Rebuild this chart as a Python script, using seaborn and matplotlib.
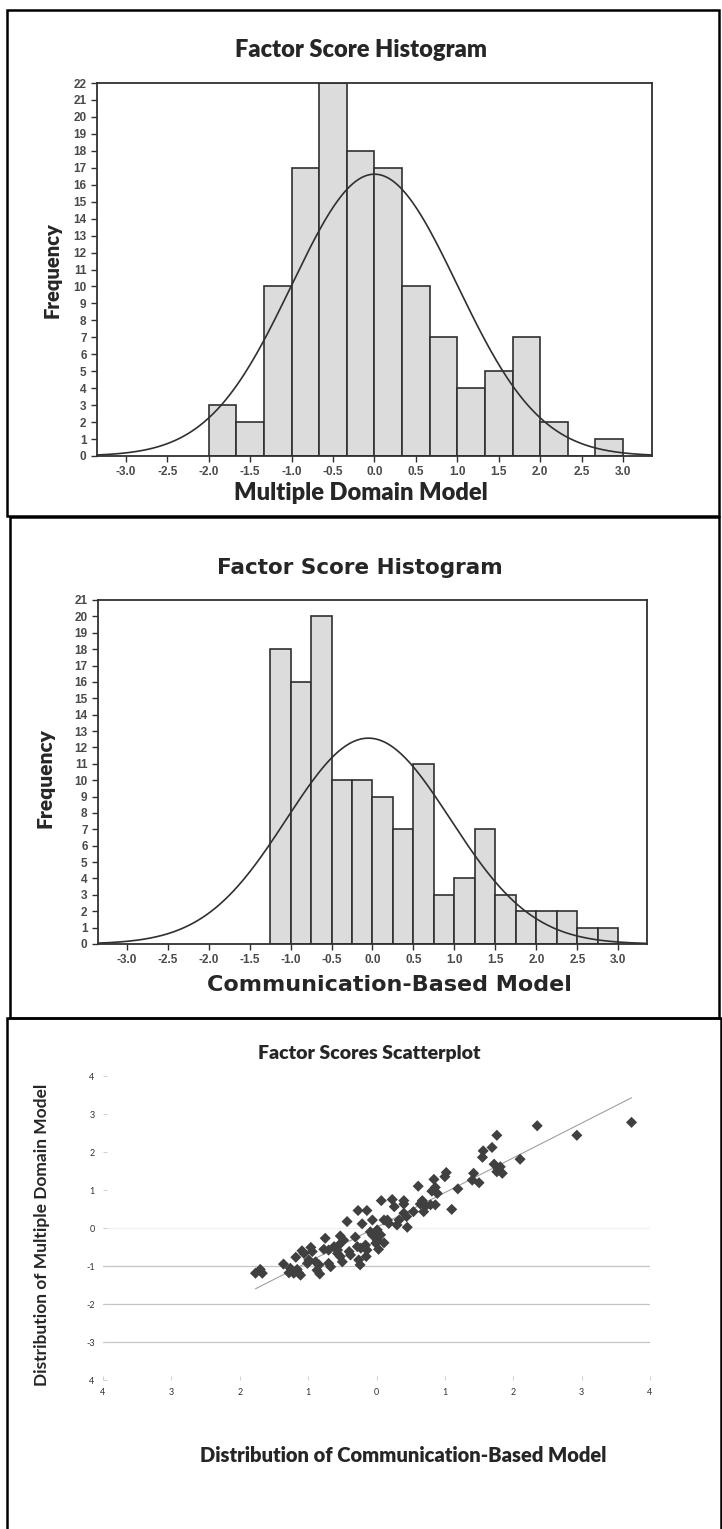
import numpy as np
import pandas as pd
import matplotlib
matplotlib.use("Agg")
import matplotlib.pyplot as plt
from matplotlib.patches import Rectangle
import seaborn as sns

# --- histogram 1: Multiple Domain Model (bin width 1/3) ---
mdm_edges = [-2.0, -5/3, -4/3, -1.0, -2/3, -1/3, 0.0, 1/3, 2/3, 1.0, 4/3, 5/3, 2.0, 7/3, 8/3, 3.0]
mdm_counts = [3, 2, 10, 17, 22, 18, 17, 10, 7, 4, 5, 7, 2, 0, 1]
mdm_mean, mdm_sd = 0.0, 1.0

# --- histogram 2: Communication-Based Model (bin width 0.25) ---
cbm_edges = [-1.25, -1.0, -0.75, -0.5, -0.25, 0.0, 0.25, 0.5, 0.75, 1.0, 1.25,
             1.5, 1.75, 2.0, 2.25, 2.5, 2.75, 3.0]
cbm_counts = [18, 16, 20, 10, 10, 9, 7, 11, 3, 4, 7, 3, 2, 2, 2, 1, 1]
cbm_mean, cbm_sd = -0.05, 1.0

hist_xticks = [-3.0, -2.5, -2.0, -1.5, -1.0, -0.5, 0.0, 0.5, 1.0, 1.5, 2.0, 2.5, 3.0]

# --- scatter: Communication-Based (x) vs Multiple Domain (y) ---
sc_x = [2.35, 2.93, 3.73, 2.10, 1.84, 1.81,
        1.76, 1.69, 1.56, 1.55, 1.72, 1.78, 1.76, 1.42, 1.50, 1.40, 1.19, 1.10,
        1.02, 1.00, 0.84, 0.86, 0.81, 0.89, 0.79, 0.86, 0.61, 0.67, 0.64, 0.72,
        0.69, 0.54, 0.40, 0.40, 0.23, 0.26, 0.44, 0.40, 0.45, 0.33, 0.30, 0.07,
        0.16, 0.11, 0.18, -0.06, 0.01, -0.06, 0.01, 0.06, -0.01, 0.11, 0.03,
        -1.77, -1.70, -1.67, -1.36, -1.28, -1.26, -1.21, -1.14, -1.16, -1.11,
        -1.18, -1.09, -1.06, -0.96, -0.94, -0.99, -1.01, -0.89, -0.84, -0.87,
        -0.83, -0.75, -0.77, -0.70, -0.62, -0.57, -0.55, -0.67, -0.70, -0.53,
        -0.50, -0.57, -0.53, -0.48, -0.43, -0.40, -0.38, -0.31, -0.28, -0.23,
        -0.26, -0.24, -0.21, -0.16, -0.14, -0.15, -0.27, -0.14, -0.09, -0.04, 0.01]
sc_y = [2.69, 2.44, 2.78, 1.81, 1.44, 1.61,
        2.44, 2.12, 2.03, 1.86, 1.68, 1.53, 1.48, 1.44, 1.19, 1.26, 1.03, 0.49,
        1.46, 1.35, 1.28, 1.07, 0.97, 0.91, 0.61, 0.61, 1.10, 0.72, 0.63, 0.58,
        0.43, 0.43, 0.72, 0.63, 0.75, 0.56, 0.30, 0.39, 0.02, 0.21, 0.08, 0.72,
        0.21, 0.21, 0.12, 0.21, -0.05, -0.18, -0.23, -0.18, -0.40, -0.39, -0.56,
        -1.19, -1.09, -1.19, -0.95, -1.18, -1.06, -1.19, -1.18, -1.09, -1.24,
        -0.77, -0.60, -0.67, -0.51, -0.62, -0.84, -0.93, -0.89, -0.97, -1.11,
        -1.21, -0.27, -0.56, -0.58, -0.49, -0.58, -0.45, -1.02, -0.93, -0.75,
        -0.89, -0.67, -0.21, -0.32, 0.17, -0.62, -0.71, -0.24, -0.49, -0.53,
        -0.84, -0.97, 0.11, -0.45, -0.58, -0.75, 0.46, 0.46, -0.10, -0.21, -0.32]

sc_ticks = [-4, -3, -2, -1, 0, 1, 2, 3, 4]
sc_xticklabels = ["4", "3", "2", "1", "0", "1", "2", "3", "4"]
sc_yticklabels = ["4", "-3", "-2", "-1", "0", "1", "2", "3", "4"]
grid_y = [-1, -2, -3]

sns.set_style("ticks")
plt.rcParams['font.family'] = ['Lato', 'DejaVu Sans']

W, H = 722, 1529
fig = plt.figure(figsize=(W / 100, H / 100), dpi=100)


def box(l, t, r, b):
    return [l / W, 1 - b / H, (r - l) / W, (b - t) / H]


def ftxt(x, y, s, **kw):
    fig.text(x / W, 1 - y / H, s, ha='center', va='center', **kw)


def draw_hist(ax, edges, counts, mean, sd, ymax):
    mids = [(a + b) / 2 for a, b in zip(edges[:-1], edges[1:])]
    df = pd.DataFrame({'score': mids, 'n': counts})
    sns.histplot(data=df, x='score', weights='n', bins=list(edges), ax=ax,
                 color='#dcdcdc', edgecolor='#303030', linewidth=1.2, alpha=1)
    width = edges[1] - edges[0]
    xs = np.linspace(-3.35, 3.35, 400)
    pdf = np.exp(-0.5 * ((xs - mean) / sd) ** 2) / (sd * np.sqrt(2 * np.pi))
    ax.plot(xs, pdf * sum(counts) * width, color='#303030', lw=1.2)
    ax.set_xlim(-3.35, 3.35)
    ax.set_ylim(0, ymax)
    ax.set_yticks(range(0, ymax + 1))
    ax.set_xticks(hist_xticks)
    ax.set_xticklabels([f"{v:.1f}" for v in hist_xticks])
    ax.set_xlabel('')
    ax.set_ylabel('')
    for sp in ax.spines.values():
        sp.set_visible(True)
        sp.set_color('#303030')
        sp.set_linewidth(1.3)
    ax.tick_params(direction='out', length=4, width=1, color='#303030',
                   labelsize=8.5, labelcolor='#4a4a4a')
    for lab in ax.get_xticklabels() + ax.get_yticklabels():
        lab.set_family(['Liberation Sans', 'DejaVu Sans'])
        lab.set_fontweight('bold')


# panel 1
ax1 = fig.add_axes(box(97, 83, 652, 456))
draw_hist(ax1, mdm_edges, mdm_counts, mdm_mean, mdm_sd, 22)
ftxt(361, 50, 'Factor Score Histogram', fontsize=17, fontweight='heavy')
ftxt(361, 493, 'Multiple Domain Model', fontsize=17, fontweight='heavy')
ftxt(52, 270, 'Frequency', fontsize=14.5, fontweight='heavy', rotation=90)

# panel 2
ax2 = fig.add_axes(box(98, 600, 647, 944))
draw_hist(ax2, cbm_edges, cbm_counts, cbm_mean, cbm_sd, 21)
ftxt(360, 568, 'Factor Score Histogram', fontsize=15.5, fontweight='bold',
     family='DejaVu Sans')
ftxt(389, 985, 'Communication-Based Model', fontsize=16, fontweight='bold',
     family='DejaVu Sans')
ftxt(45, 778, 'Frequency', fontsize=15, fontweight='heavy', rotation=90)

# panel 3
ax3 = fig.add_axes(box(103, 1076, 650, 1380))
for g in grid_y:
    ax3.axhline(g, color='#c4c4c4', lw=0.9, zorder=0)
ax3.axhline(0, color='#f0f0f0', lw=0.9, zorder=0)
sdf = pd.DataFrame({'cbm': sc_x, 'mdm': sc_y})
sns.regplot(data=sdf, x='cbm', y='mdm', ax=ax3, scatter=False, ci=None,
            truncate=True, line_kws={'color': '#a0a0a0', 'lw': 0.8})
sns.scatterplot(data=sdf, x='cbm', y='mdm', ax=ax3, marker='D', s=32,
                color='#404040', edgecolor='none', zorder=3)
ax3.set_xlim(-4, 4)
ax3.set_ylim(-4, 4)
ax3.set_xticks(sc_ticks)
ax3.set_xticklabels(sc_xticklabels)
ax3.set_yticks(sc_ticks)
ax3.set_yticklabels(sc_yticklabels)
ax3.set_xlabel('')
ax3.set_ylabel('')
for sp in ax3.spines.values():
    sp.set_visible(False)
ax3.tick_params(direction='in', length=3, width=0.6, color='#c8c8c8',
                labelsize=6.5, labelcolor='#333333', pad=6)
ftxt(369, 1053, 'Factor Scores Scatterplot', fontsize=14, fontweight='heavy')
ftxt(403, 1455, 'Distribution of Communication-Based Model', fontsize=14.5,
     fontweight='heavy')
ftxt(42, 1235, 'Distribution of Multiple Domain Model', fontsize=12.5,
     fontweight='bold', rotation=90)

# panel frames
for (l, t, r, b) in [(7, 10, 719, 516), (10, 517, 719, 1018), (7, 1018, 721, 1535)]:
    fig.add_artist(Rectangle((l / W, 1 - b / H), (r - l) / W, (b - t) / H,
                             transform=fig.transFigure, fill=False,
                             edgecolor='black', lw=1.8))

fig.savefig('out.png', dpi=100)
